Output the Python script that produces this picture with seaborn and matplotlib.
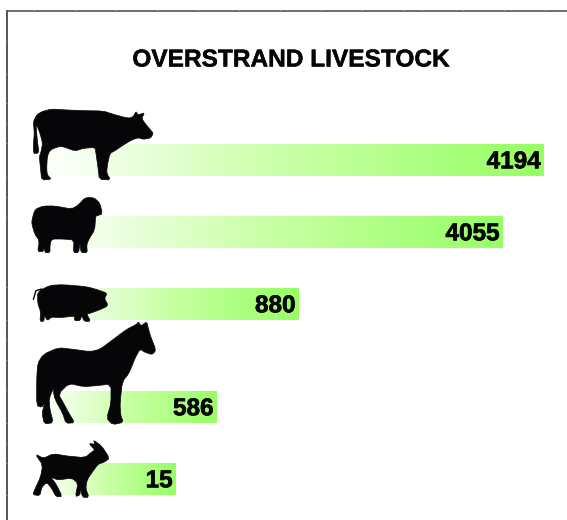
import numpy as np
import pandas as pd
import seaborn as sns
import matplotlib
matplotlib.use("Agg")
import matplotlib.pyplot as plt
import matplotlib.patheffects as pe
from matplotlib.colors import LinearSegmentedColormap
from matplotlib.patches import Polygon

animals = ["cow", "sheep", "pig", "horse", "goat"]
counts = [4194, 4055, 880, 586, 15]
# drawn bar lengths (the graphic is not to scale)
bar_lengths = [503, 462, 258, 176, 135]
rows = [160, 232, 304, 407, 479]
title = "OVERSTRAND LIVESTOCK"

# silhouettes, traced outlines (3x zoom units), with origin offset
cow = [(110,75),(125,65),(155,57),(200,60),(250,62),(310,63),(340,73),(385,85),(400,80),(408,64),(414,75),(434,68),(425,85),(435,100),(450,118),(460,130),(452,144),(430,148),(415,143),(395,150),(370,165),(345,182),(330,190),(322,225),(320,250),(332,270),(298,268),(295,240),(288,190),(285,172),(250,175),(225,183),(190,170),(175,170),(150,180),(142,200),(140,235),(142,255),(155,268),(125,270),(122,240),(118,200),(122,190),(128,160),(120,130),(108,100),(110,130),(113,160),(117,188),(101,192),(100,165),(103,130),(100,95)]
sheep = [(97,385),(105,358),(130,348),(165,348),(215,357),(235,345),(255,323),(282,323),(300,340),(307,372),(295,376),(287,378),(284,420),(267,447),(260,465),(262,488),(243,488),(240,458),(236,488),(220,488),(222,450),(190,447),(155,447),(150,465),(150,488),(134,488),(134,462),(130,485),(113,485),(118,452),(104,432),(95,400)]
pig = [(113,65),(150,46),(190,44),(260,50),(295,60),(322,70),(313,85),(325,107),(300,119),(270,130),(260,132),(272,154),(253,154),(245,137),(240,152),(223,152),(225,138),(180,143),(155,141),(142,152),(133,135),(132,154),(120,154),(122,125),(113,100)]
pig_tail = [(100,88),(108,62),(125,57)]
horse = [(110,330),(113,280),(130,253),(175,233),(220,238),(270,245),(300,238),(340,208),(380,178),(410,163),(415,155),(423,168),(440,155),(445,175),(452,200),(468,240),(457,254),(435,247),(420,237),(405,265),(387,310),(367,335),(360,400),(362,435),(370,457),(338,464),(320,445),(333,400),(333,342),(290,347),(250,350),(207,340),(175,372),(192,402),(207,430),(224,458),(198,460),(188,430),(165,388),(160,365),(165,345),(147,385),(150,420),(160,458),(133,462),(126,430),(135,395),(126,412),(110,407)]
goat = [(106,552),(130,565),(160,551),(200,558),(255,563),(275,546),(285,540),(266,520),(285,523),(280,510),(305,528),(329,565),(312,577),(295,582),(280,602),(262,628),(257,655),(267,682),(247,682),(242,652),(240,675),(226,680),(234,640),(215,624),(175,630),(152,622),(167,640),(187,680),(168,680),(155,655),(140,637),(125,652),(120,677),(98,674),(106,655),(122,620),(128,585)]


def chaikin(points, n=1):
    pts = np.array(points, float)
    for _ in range(n):
        nxt = np.roll(pts, -1, axis=0)
        q = 0.8 * pts + 0.2 * nxt
        r = 0.2 * pts + 0.8 * nxt
        pts = np.empty((len(q) * 2, 2))
        pts[0::2] = q
        pts[1::2] = r
    return pts


sns.set_style("white")
plt.rcParams["font.family"] = ["Liberation Sans", "DejaVu Sans"]

fig = plt.figure(figsize=(5.67, 5.20), dpi=100)
ax = fig.add_axes([0, 0, 1, 1])
df = pd.DataFrame({"animal": animals, "length": bar_lengths, "row": rows})
sns.barplot(data=df, x="length", y="row", orient="h", native_scale=True,
            width=33 / 72, color="white", ax=ax, zorder=1)

X0 = -41
xlim = (X0, X0 + 567)
ylim = (520, 0)
cmap = LinearSegmentedColormap.from_list("g", ["#ffffff", "#c8ffa4", "#96ff64"])
grad = np.linspace(0, 1, 256).reshape(1, -1)
for p in list(ax.patches):
    xa, ya, w, h = p.get_x(), p.get_y(), p.get_width(), p.get_height()
    im = ax.imshow(grad, cmap=cmap, extent=(xa, xa + w, ya + h, ya),
                   aspect="auto", zorder=1, interpolation="bilinear")
    im.set_clip_path(p)
    p.set_edgecolor("none")
ax.set_xlim(xlim)
ax.set_ylim(ylim)


def place(points, oy):
    return [(px / 3 + X0, oy + py / 3) for px, py in points]


for pts, oy in [(cow, 90), (sheep, 90), (pig, 270), (horse, 270), (goat, 270)]:
    ax.add_patch(Polygon(chaikin(place(pts, oy)), closed=True, facecolor="#060608",
                         edgecolor="#060608", lw=0.5, zorder=3))
tail = np.array(place(pig_tail, 270))
ax.plot(tail[:, 0], tail[:, 1], color="#060608", lw=1.0, zorder=3)

heavy = [pe.withStroke(linewidth=0.5, foreground="#050505")]
for n, ln, r in zip(counts, bar_lengths, rows):
    ax.text(ln - 3.5, r + 1.8, str(n), ha="right", va="center", fontsize=17.5,
            fontweight="bold", color="#050505", zorder=4, path_effects=heavy)

ax.text(X0 + 290.5, 60, title, ha="center", va="center", fontsize=17.6,
        fontweight="bold", color="#050505",
        path_effects=[pe.withStroke(linewidth=0.3, foreground="#050505")])

# frame lines at the top and left of the panel, with their faint nicks
ax.axis("off")
ax.plot([X0 + 6.7, X0 + 567], [10.8, 10.8], color="#555555", lw=1.2, zorder=5)
ax.plot([X0 + 6.7, X0 + 6.7], [10.8, 520], color="#555555", lw=1.4, zorder=5)
for xn in [34, 75, 116, 157, 198, 239, 280, 321, 362, 403, 422, 463, 504, 545]:
    ax.plot([X0 + xn, X0 + xn], [8.8, 10], color="#cccccc", lw=0.7, zorder=5)
for yn in [41, 74, 103, 123, 143, 177, 197, 217, 287, 320, 340, 360, 390, 423, 443, 463, 495]:
    ax.plot([X0 + 4.6, X0 + 5.8], [yn, yn], color="#cccccc", lw=0.7, zorder=5)

fig.savefig("out.png", dpi=100)
